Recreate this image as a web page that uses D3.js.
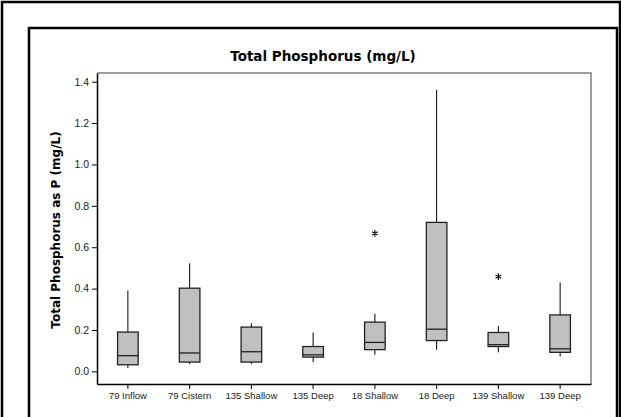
<!DOCTYPE html>
<html>
<head>
<meta charset="utf-8">
<script src="https://cdn.jsdelivr.net/npm/d3@7"></script>
<style>
  html, body { margin: 0; padding: 0; background: #fff; }
  svg { display: block; font-family: "DejaVu Sans", sans-serif; }
</style>
</head>
<body>
<div id="chart"></div>
<script>
// Boxplot : Total Phosphorus par site
const categories = ["79 Inflow", "79 Cistern", "135 Shallow", "135 Deep",
  "18 Shallow", "18 Deep", "139 Shallow", "139 Deep"];
const whiskerLow  = [0.016, 0.036, 0.036, 0.045, 0.080, 0.105, 0.092, 0.072];
const q1          = [0.032, 0.045, 0.045, 0.069, 0.105, 0.149, 0.120, 0.092];
const median      = [0.076, 0.089, 0.095, 0.080, 0.140, 0.204, 0.129, 0.109];
const q3          = [0.190, 0.402, 0.214, 0.120, 0.238, 0.720, 0.188, 0.273];
const whiskerHigh = [0.390, 0.522, 0.233, 0.188, 0.278, 1.361, 0.220, 0.429];
const outlierCats = ["18 Shallow", "139 Shallow"];
const outlierVals = [0.667, 0.458];
const yTicks = [0, 0.2, 0.4, 0.6, 0.8, 1.0, 1.2, 1.4];

const width = 621, height = 417;
const plot = { left: 97, right: 591, top: 73, bottom: 384 };

const rows = categories.map((c, i) => ({
  cat: c, lo: whiskerLow[i], q1: q1[i], med: median[i], q3: q3[i], hi: whiskerHigh[i]
}));

const svg = d3.select("#chart").append("svg")
  .attr("width", width).attr("height", height);

// cadres extérieurs
svg.append("rect")
  .attr("x", 2).attr("y", 2).attr("width", 618).attr("height", 430)
  .attr("fill", "none").attr("stroke", "#000").attr("stroke-width", 2.5);
svg.append("rect")
  .attr("x", 29).attr("y", 28).attr("width", 588).attr("height", 410)
  .attr("fill", "none").attr("stroke", "#000").attr("stroke-width", 2.5);

// --- Scales ---
const x = d3.scaleBand().domain(categories).range([plot.left, plot.right]);
const y = d3.scaleLinear().domain([-0.061, 1.442]).range([plot.bottom, plot.top]);

// cadre gris haut / droite
svg.append("path")
  .attr("d", `M${plot.left},${plot.top}H${plot.right}V${plot.bottom}`)
  .attr("fill", "none").attr("stroke", "#808080").attr("stroke-width", 1.5);

// --- Axes ---
const yAxis = svg.append("g")
  .attr("transform", `translate(${plot.left},0)`)
  .call(d3.axisLeft(y).tickValues(yTicks).tickFormat(d3.format(".1f"))
    .tickSize(5).tickSizeOuter(0).tickPadding(3));
yAxis.selectAll("text").style("font-size", "10.5px").attr("fill", "#222");

const xAxis = svg.append("g")
  .attr("transform", `translate(0,${plot.bottom})`)
  .call(d3.axisBottom(x).tickSize(5).tickSizeOuter(0).tickPadding(3));
xAxis.selectAll("text").style("font-size", "9.5px").attr("fill", "#222");

svg.selectAll(".domain").attr("stroke-width", 1.5);

// --- Boxes ---
const bw = x.bandwidth() / 3;
const cx = (d) => x(d.cat) + x.bandwidth() / 2;
const g = svg.append("g");

g.selectAll("line.whisker")
  .data(rows)
  .enter().append("line")
  .attr("class", "whisker")
  .attr("x1", cx).attr("x2", cx)
  .attr("y1", (d) => y(d.lo)).attr("y2", (d) => y(d.hi))
  .attr("stroke", "#000").attr("stroke-width", 1);

g.selectAll("rect.box")
  .data(rows)
  .enter().append("rect")
  .attr("class", "box")
  .attr("x", (d) => cx(d) - bw / 2)
  .attr("width", bw)
  .attr("y", (d) => y(d.q3))
  .attr("height", (d) => y(d.q1) - y(d.q3))
  .attr("fill", "#c0c0c0").attr("stroke", "#222").attr("stroke-width", 1.3);

g.selectAll("line.median")
  .data(rows)
  .enter().append("line")
  .attr("class", "median")
  .attr("x1", (d) => cx(d) - bw / 2).attr("x2", (d) => cx(d) + bw / 2)
  .attr("y1", (d) => y(d.med)).attr("y2", (d) => y(d.med))
  .attr("stroke", "#222").attr("stroke-width", 1.3);

// outliers (astérisques)
const outs = outlierCats.map((c, i) => ({ cat: c, v: outlierVals[i] }));
if (d3.symbolAsterisk) {
  g.selectAll("path.outlier")
    .data(outs)
    .enter().append("path")
    .attr("class", "outlier")
    .attr("transform", (d) => `translate(${x(d.cat) + x.bandwidth() / 2},${y(d.v)})`)
    .attr("d", d3.symbol(d3.symbolAsterisk, 30))
    .attr("fill", "none").attr("stroke", "#111").attr("stroke-width", 1.2);
} else {
  g.selectAll("text.outlier")
    .data(outs)
    .enter().append("text")
    .attr("class", "outlier")
    .attr("x", (d) => x(d.cat) + x.bandwidth() / 2)
    .attr("y", (d) => y(d.v) + 5)
    .attr("text-anchor", "middle")
    .style("font-size", "12px")
    .text("*");
}

// --- Titre ---
svg.append("text")
  .attr("x", 323).attr("y", 61)
  .attr("text-anchor", "middle")
  .style("font-size", "13.5px").style("font-weight", "700")
  .text("Total Phosphorus (mg/L)");

// Label axe Y
svg.append("text")
  .attr("transform", `translate(60,230) rotate(-90)`)
  .attr("text-anchor", "middle")
  .style("font-size", "12px").style("font-weight", "700")
  .text("Total Phosphorus as P (mg/L)");
</script>
</body>
</html>
